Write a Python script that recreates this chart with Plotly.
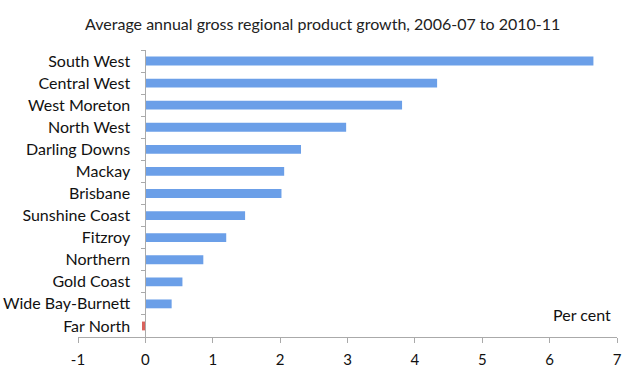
import plotly.graph_objects as go

regions = ["South West", "Central West", "West Moreton", "North West", "Darling Downs",
           "Mackay", "Brisbane", "Sunshine Coast", "Fitzroy", "Northern", "Gold Coast",
           "Wide Bay-Burnett", "Far North"]
growth = [6.65, 4.33, 3.81, 2.98, 2.31, 2.06, 2.02, 1.48, 1.20, 0.86, 0.55, 0.39, -0.05]
x_ticks = [-1, 0, 1, 2, 3, 4, 5, 6, 7]
x_tick_text = ["-1", "0", "1", "2", "3", "4", "5", "6", "7"]

colors = ["#d9625c" if v < 0 else "#6b9fe8" for v in growth]

fig = go.Figure(go.Bar(
    y=regions, x=growth, orientation="h",
    marker=dict(color=colors, line=dict(width=0)),
))

font_family = "Lato, Noto Sans, sans-serif"
fig.update_layout(
    width=639, height=390,
    margin=dict(l=78, r=22, t=50, b=53, autoexpand=False),
    paper_bgcolor="white", plot_bgcolor="white",
    bargap=0.6,
    showlegend=False,
    title=dict(text="Average annual gross regional product growth, 2006-07 to 2010-11",
               x=0.505, xanchor="center", y=0.937, yanchor="middle",
               font=dict(family=font_family, size=16, color="#222")),
    font=dict(family=font_family, size=16, color="#111"),
)
fig.update_xaxes(
    range=[-1, 7], tickvals=x_ticks, ticktext=x_tick_text,
    showgrid=False, zeroline=False,
    showline=True, linecolor="#aaaaaa", linewidth=1,
    ticks="outside", ticklen=5, tickcolor="#aaaaaa",
    tickfont=dict(size=15), ticklabelstandoff=4,
)
# category axis crosses the value axis at 0 (1/8 of the -1..7 range)
fig.update_yaxes(
    autorange="reversed", categoryorder="array", categoryarray=regions,
    anchor="free", position=0.125,
    showgrid=False, showline=True, linecolor="#aaaaaa", linewidth=1, zeroline=False,
    ticks="outside", ticklen=4, tickcolor="#aaaaaa", tickson="boundaries",
    tickfont=dict(size=16),
    ticklabelstandoff=12,
)
fig.add_annotation(text="Per cent", xref="x", yref="paper", x=6.48, y=0.04,
                   showarrow=False, font=dict(size=16))

fig.write_html("out.html", config={"displayModeBar": False},
               post_script="document.body.style.margin='0';")
